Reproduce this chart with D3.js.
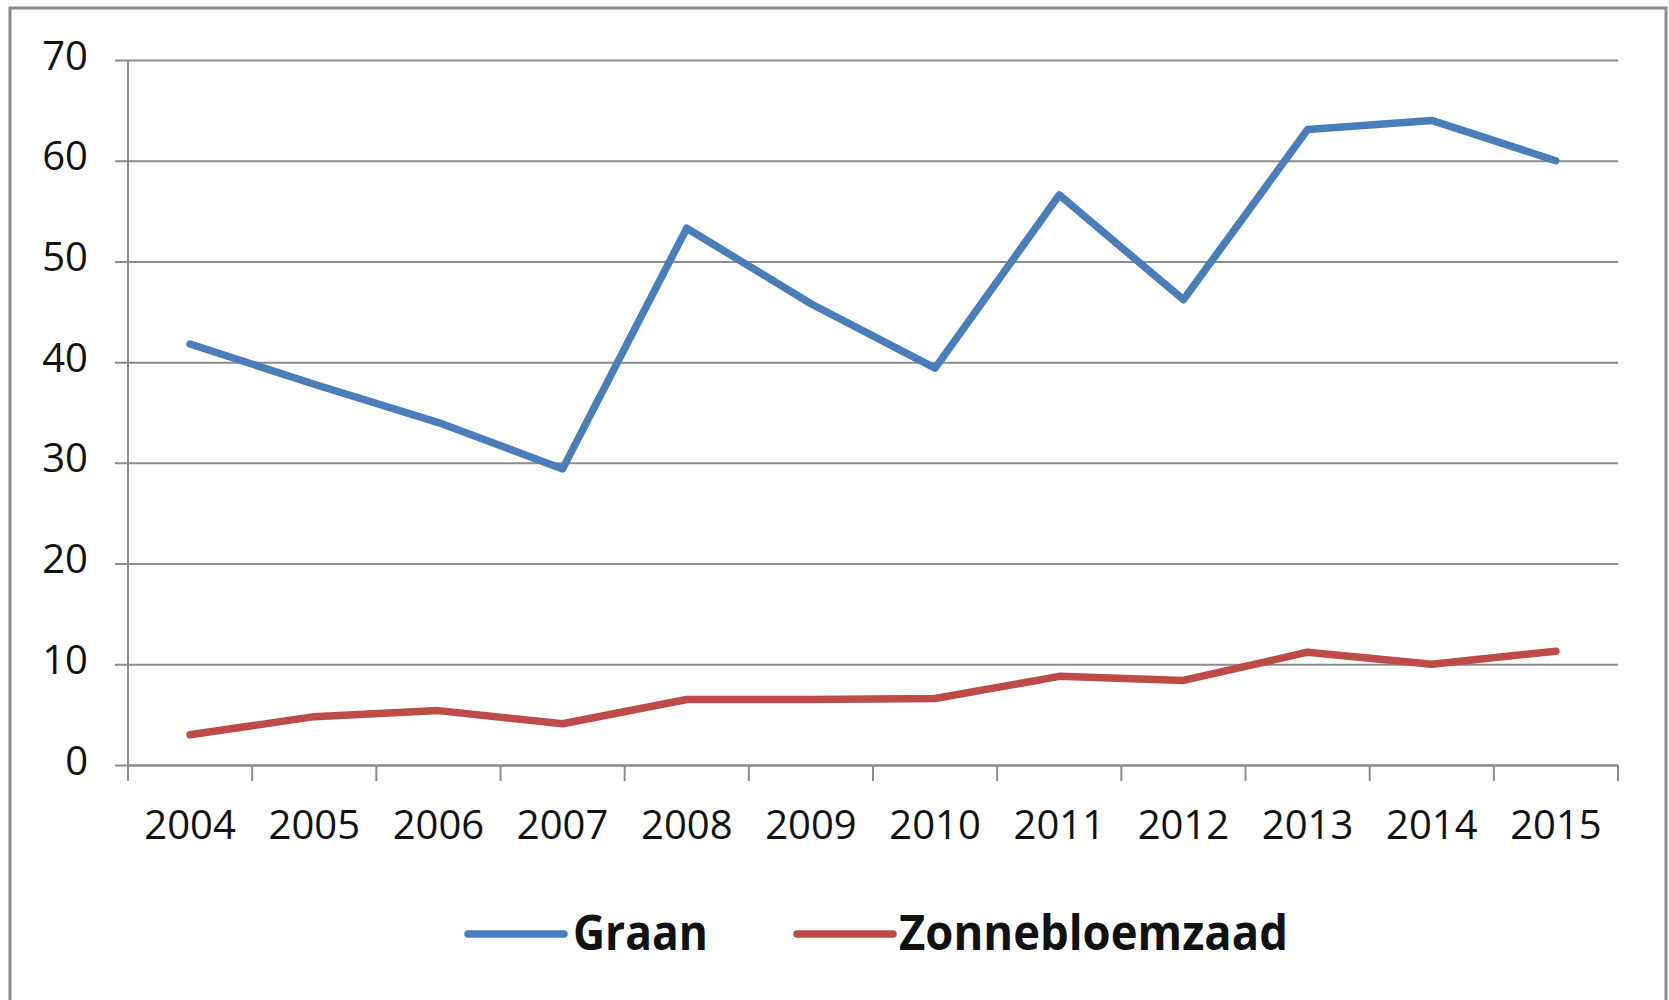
<!DOCTYPE html>
<html>
<head>
<meta charset="utf-8">
<script src="https://cdn.jsdelivr.net/npm/d3@7"></script>
<style>
  body { margin: 0; background: #fff; }
  text { font-family: "Open Sans", sans-serif; fill: #111; }
</style>
</head>
<body>
<div id="chart"></div>
<script>
// data
var years = ["2004","2005","2006","2007","2008","2009","2010","2011","2012","2013","2014","2015"];
var graan = [41.8, 37.8, 34.0, 29.4, 53.3, 45.8, 39.4, 56.6, 46.2, 63.1, 64.0, 60.0];
var zonnebloemzaad = [3.0, 4.8, 5.4, 4.1, 6.5, 6.5, 6.6, 8.8, 8.4, 11.2, 10.0, 11.3];
var yTicks = [0, 10, 20, 30, 40, 50, 60, 70];
var seriesNames = ["Graan", "Zonnebloemzaad"];
var seriesColors = ["#4a7ebb", "#be4b48"];

var W = 1669, H = 1000;
var margin = {top: 60, right: 51, bottom: 235, left: 128},
    width = W - margin.left - margin.right,
    height = H - margin.top - margin.bottom;

var svg = d3.select("#chart").append("svg")
    .attr("width", W)
    .attr("height", H);

// outer frame
svg.append("rect")
    .attr("x", 10).attr("y", 8)
    .attr("width", 1656).attr("height", 1010)
    .attr("fill", "none")
    .attr("stroke", "#8a8a8a")
    .attr("stroke-width", 3);

var g = svg.append("g")
    .attr("transform", "translate(" + margin.left + "," + margin.top + ")");

var xScale = d3.scaleBand().domain(years).range([0, width]);
var yScale = d3.scaleLinear().domain([0, 70]).range([height, 0]);

// gridlines + y labels
var y_axis = d3.axisLeft(yScale)
    .tickValues(yTicks)
    .tickSizeInner(-(width + 13))
    .tickSizeOuter(0)
    .tickPadding(27);

var yg = g.append("g")
    .attr("transform", "translate(-13,0)")
    .call(y_axis);
yg.select(".domain").remove();
yg.selectAll("line").attr("stroke", "#8c8c8c").attr("stroke-width", 2);
yg.selectAll("text")
    .attr("font-size", 40)
    .attr("dy", "0.3em")
    .attr("transform", "translate(0,-3)");

// y axis line
g.append("line")
    .attr("x1", 0).attr("x2", 0)
    .attr("y1", 0).attr("y2", height)
    .attr("stroke", "#8c8c8c").attr("stroke-width", 2);

// x axis labels
var x_axis = d3.axisBottom(xScale).tickSize(0).tickPadding(46);
var xg = g.append("g")
    .attr("transform", "translate(0," + height + ")")
    .call(x_axis);
xg.select(".domain")
    .attr("stroke", "#8c8c8c").attr("stroke-width", 2);
xg.selectAll("text").attr("font-size", 40);

// boundary tick marks between categories
var bounds = years.map(function(d){ return xScale(d); }).concat([width]);
g.selectAll(".xtick")
  .data(bounds)
  .enter().append("line")
    .attr("class", "xtick")
    .attr("x1", function(d){ return d; })
    .attr("x2", function(d){ return d; })
    .attr("y1", height)
    .attr("y2", height + 16)
    .attr("stroke", "#8c8c8c").attr("stroke-width", 2);

// lines
var line = d3.line()
    .x(function(d, i){ return xScale(years[i]) + xScale.bandwidth() / 2; })
    .y(function(d){ return yScale(d); });

[graan, zonnebloemzaad].forEach(function(vals, i){
  g.append("path")
    .datum(vals)
    .attr("fill", "none")
    .attr("stroke", seriesColors[i])
    .attr("stroke-width", 7.5)
    .attr("stroke-linejoin", "round")
    .attr("stroke-linecap", "round")
    .attr("d", line);
});

// legend
var legendX = [468, 797],
    textX = [573, 899],
    textLen = [135, 389];
var lg = svg.append("g");
seriesNames.forEach(function(name, i){
  lg.append("line")
    .attr("x1", legendX[i]).attr("x2", legendX[i] + 96)
    .attr("y1", 934).attr("y2", 934)
    .attr("stroke", seriesColors[i])
    .attr("stroke-width", 7.5)
    .attr("stroke-linecap", "round");
  lg.append("text")
    .attr("x", textX[i]).attr("y", 950)
    .attr("font-size", 49)
    .attr("font-weight", "bold")
    .attr("textLength", textLen[i])
    .attr("lengthAdjust", "spacingAndGlyphs")
    .text(name);
});
</script>
</body>
</html>
